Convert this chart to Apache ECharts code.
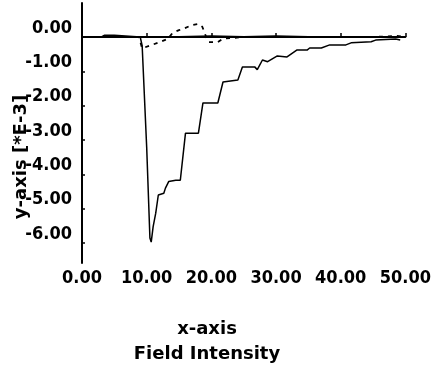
<!DOCTYPE html>
<html>
<head>
<meta charset="utf-8">
<script src="https://cdn.jsdelivr.net/npm/echarts@6/dist/echarts.min.js"></script>
<style>
  html, body { margin: 0; padding: 0; background: #fff; }
  #chart { width: 434px; height: 371px; }
</style>
</head>
<body>
<div id="chart"></div>
<script>
// main response (solid) - field intensity vs value [*E-3]
const mainX = [3, 3.5, 5, 5.3, 9.0, 9.3, 10.0, 10.5, 10.7, 11.0, 11.4, 11.8, 12.65, 12.9, 13.4, 14.5, 15.2, 16.0, 18.0, 18.7, 21.0, 21.8, 24.1, 24.8, 26.7, 27.1, 27.9, 28.7, 30.2, 31.7, 33.2, 34.8, 35.2, 37.0, 38.3, 40.8, 41.6, 44.7, 45.4, 48.5, 49.2];
const mainY = [0, 0.05, 0.05, 0, 0, -0.25, -3.2, -5.85, -5.97, -5.52, -5.13, -4.6, -4.55, -4.4, -4.21, -4.17, -4.17, -2.8, -2.8, -1.92, -1.92, -1.31, -1.25, -0.87, -0.87, -0.95, -0.67, -0.72, -0.55, -0.58, -0.38, -0.38, -0.32, -0.32, -0.23, -0.23, -0.17, -0.14, -0.09, -0.06, -0.09];

// dashed companion curve
const dashX = [0, 3, 8.8, 9.3, 10.5, 12.0, 13.3, 14.0, 15.0, 15.8, 17.0, 18.0, 18.6, 19.2, 19.6, 21.0, 21.8, 25, 30, 35, 40, 45, 48.7, 50];
const dashY = [0, 0, 0, -0.33, -0.25, -0.15, -0.05, 0.12, 0.2, 0.25, 0.35, 0.38, 0.3, 0.0, -0.15, -0.15, -0.05, 0, 0, 0, 0, 0, 0.03, 0];

// flat solid baseline
const baseX = [8.8, 15, 20, 25, 30, 35, 40.5];
const baseY = [0, 0, 0.02, 0, 0.02, 0, 0];

const yTicks = [-6, -5, -4, -3, -2, -1, 0];
const xTicks = [0, 10, 20, 30, 40, 50];

const pairs = (xs, ys) => xs.map((x, i) => [x, ys[i]]);

const chart = echarts.init(document.getElementById('chart'));
const tickFont = {
  fontFamily: "'DejaVu Sans Condensed', 'DejaVu Sans'",
  fontWeight: 'bold',
  fontSize: 18,
  color: '#000'
};
const nameFont = "bold 18px 'DejaVu Sans'";

chart.setOption({
  animation: false,
  backgroundColor: '#fff',
  grid: { left: 82, right: 24, top: 3, bottom: 108 },
  xAxis: {
    type: 'value',
    min: 0,
    max: 50,
    interval: 10,
    axisLine: { lineStyle: { color: '#000', width: 2 } },
    axisTick: { inside: true, length: 4, lineStyle: { color: '#000', width: 1.5 } },
    splitLine: { show: false },
    axisLabel: Object.assign({ margin: 6, formatter: v => v.toFixed(2) }, tickFont)
  },
  yAxis: {
    type: 'value',
    min: -6.58,
    max: 0.99,
    axisLine: { show: true, lineStyle: { color: '#000', width: 2 } },
    axisTick: { show: true, inside: true, length: 3, customValues: yTicks, lineStyle: { color: '#000', width: 1.5 } },
    splitLine: { show: false },
    axisLabel: Object.assign({
      margin: 10,
      customValues: yTicks,
      verticalAlign: 'bottom',
      lineHeight: 18,
      formatter: v => v.toFixed(2)
    }, tickFont)
  },
  graphic: [
    {
      type: 'text',
      x: 21,
      y: 157,
      rotation: Math.PI / 2,
      style: { text: 'y-axis [*E-3]', font: nameFont, fill: '#000', textAlign: 'center', textVerticalAlign: 'middle' }
    },
    {
      type: 'text',
      x: 207,
      y: 329,
      style: { text: 'x-axis', font: nameFont, fill: '#000', textAlign: 'center', textVerticalAlign: 'middle' }
    },
    {
      type: 'text',
      x: 207,
      y: 354,
      style: { text: 'Field Intensity', font: nameFont, fill: '#000', textAlign: 'center', textVerticalAlign: 'middle' }
    }
  ],
  series: [
    {
      type: 'line',
      data: pairs(baseX, baseY),
      showSymbol: false,
      lineStyle: { color: '#000', width: 2 }
    },
    {
      type: 'line',
      data: pairs(dashX, dashY).map((p, i) => i === 2 ? { value: p, symbol: 'emptyCircle', symbolSize: 6 } : p),
      showSymbol: false,
      symbol: 'none',
      itemStyle: { color: '#000', borderWidth: 1.5 },
      lineStyle: { color: '#000', width: 1.8, type: [4, 5] }
    },
    {
      type: 'line',
      data: pairs(mainX, mainY),
      showSymbol: false,
      lineStyle: { color: '#000', width: 1.5 }
    }
  ]
});
</script>
</body>
</html>
